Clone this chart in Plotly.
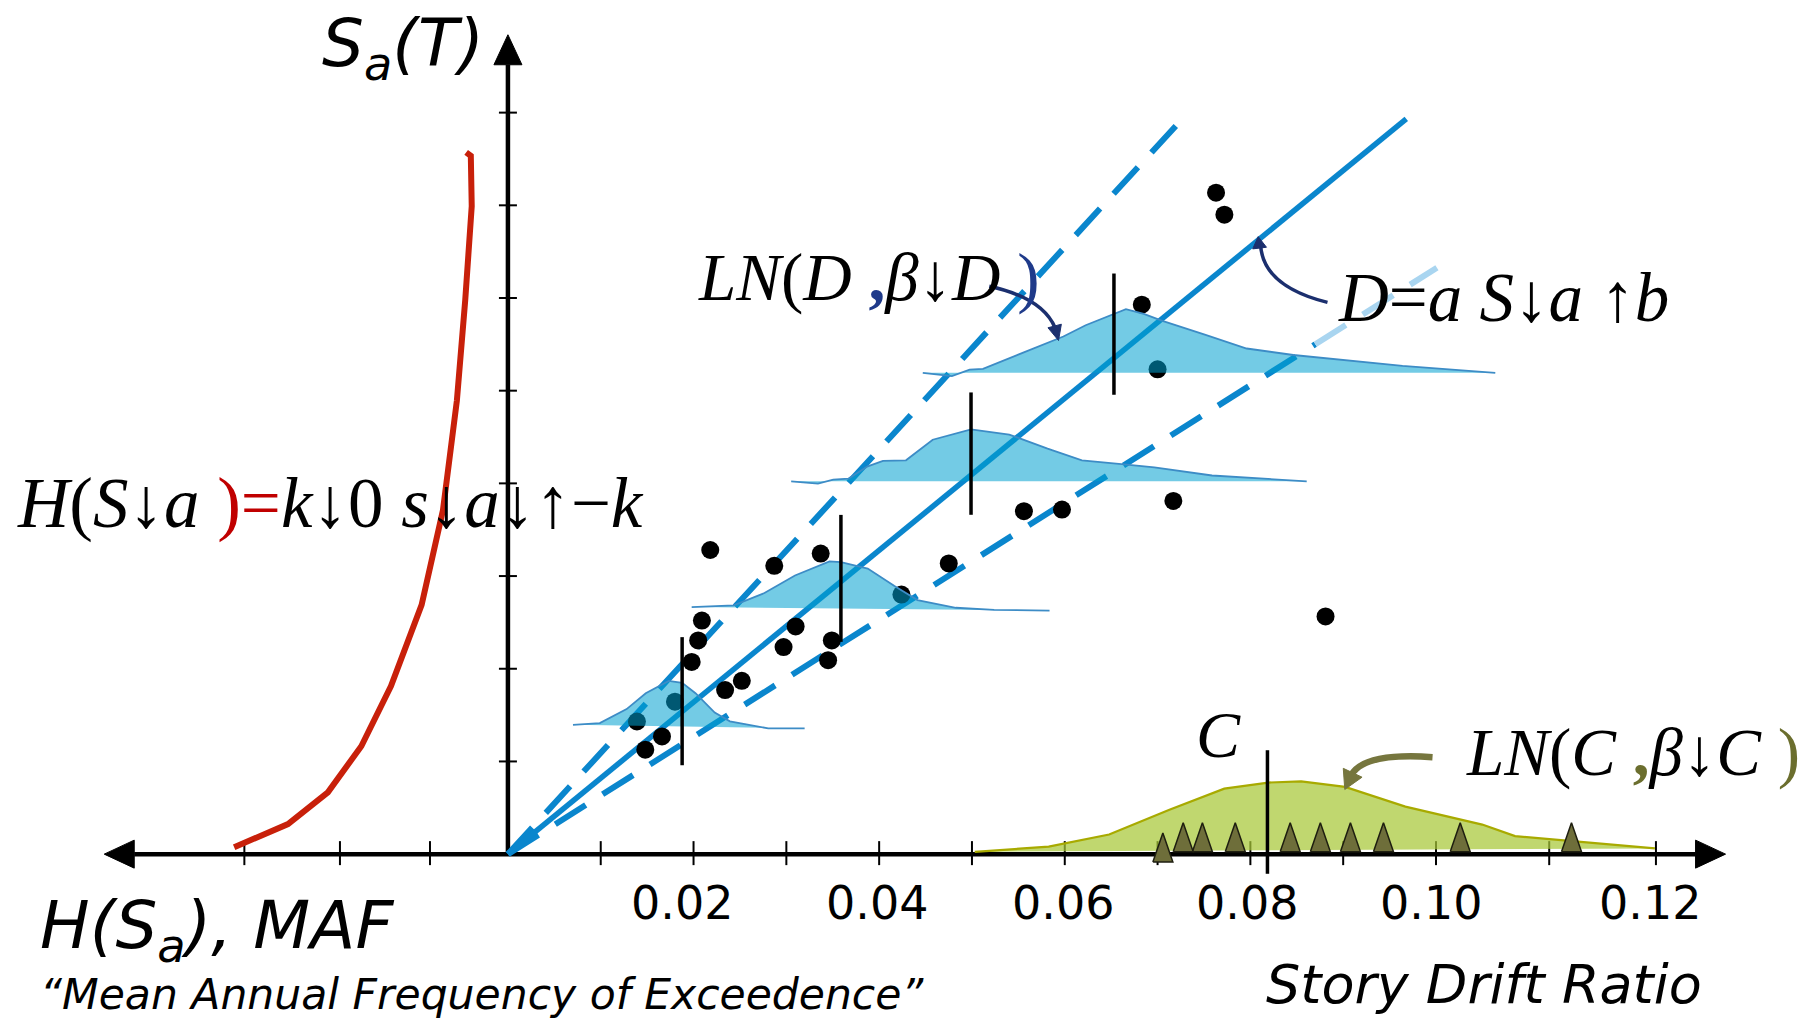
import math
import plotly.graph_objects as go

# ---------------- data ----------------
# Seismic hazard curve H(Sa) drawn on the left (negative x = MAF direction)
haz_x = [-0.0295, -0.0237, -0.0194, -0.0158, -0.0126, -0.0093, -0.0070,
         -0.0055, -0.0046, -0.0039, -0.0040, -0.0045]
haz_y = [0.075, 0.324, 0.667, 1.164, 1.813, 2.690, 3.711,
         4.894, 5.978, 6.991, 7.534, 7.572]

# Demand model D = a Sa^b (median) and +/- dispersion bounds
med_x = [0.0, 0.0968]
med_y = [0.0, 7.933]
up_x = [0.0, 0.0721]
up_y = [0.0, 7.870]
lo_x = [0.0, 0.0870, 0.1001]
lo_y = [0.0, 5.501, 6.326]

# Response history results (drift, Sa)
drift = [0.0763, 0.0772, 0.0683, 0.0700, 0.0218, 0.0287, 0.0337, 0.0475,
         0.0556, 0.0597, 0.0717, 0.0881, 0.0424, 0.0209, 0.0205, 0.0198,
         0.0310, 0.0297, 0.0349, 0.0345, 0.0252, 0.0234, 0.0180, 0.0139,
         0.0166, 0.0148]
sa = [7.136, 6.899, 5.928, 5.230, 3.281, 3.111, 3.243, 3.136,
      3.700, 3.717, 3.811, 2.565, 2.800, 2.520, 2.306, 2.073,
      2.456, 2.234, 2.306, 2.092, 1.870, 1.770, 1.645, 1.431,
      1.270, 1.127]

# Lognormal demand distributions LN(D, beta_D) at four Sa levels
d1_x = [0.00701, 0.00990, 0.01279, 0.01485, 0.01733, 0.01877, 0.02021,
        0.02228, 0.02392, 0.02805, 0.03197]
d1_y = [1.395, 1.413, 1.565, 1.736, 1.868, 1.849, 1.736, 1.527, 1.432,
        1.357, 1.357]
d2_x = [0.01980, 0.02433, 0.02764, 0.03093, 0.03465, 0.03588, 0.03877,
        0.04165, 0.04413, 0.04826, 0.05239, 0.05836]
d2_y = [2.665, 2.684, 2.817, 3.006, 3.158, 3.151, 3.081, 2.892, 2.741,
        2.658, 2.635, 2.628]
d3_x = [0.03052, 0.03341, 0.03505, 0.03670, 0.03877, 0.04041, 0.04289,
        0.04577, 0.04990, 0.05402, 0.05815, 0.06185, 0.06639, 0.06965,
        0.07587, 0.08607]
d3_y = [4.022, 3.998, 4.041, 4.052, 4.184, 4.242, 4.249, 4.471, 4.583,
        4.526, 4.375, 4.249, 4.204, 4.172, 4.085, 4.022]
d4_x = [0.04470, 0.04784, 0.04975, 0.05119, 0.05552, 0.05985, 0.06225,
        0.06659, 0.06851, 0.07052, 0.07509, 0.07960, 0.08463, 0.09639,
        0.10639]
d4_y = [5.193, 5.158, 5.228, 5.235, 5.410, 5.584, 5.706, 5.880, 5.828,
        5.753, 5.604, 5.455, 5.385, 5.268, 5.193]
d_median = [0.01877, 0.03588, 0.04990, 0.06530]
d_med_lo = [0.959, 2.290, 3.661, 4.956]
d_med_hi = [2.341, 3.660, 4.981, 6.264]

# Capacity distribution LN(C, beta_C)
c_x = [0.05030, 0.05827, 0.06478, 0.07128, 0.07719, 0.08193, 0.08547,
       0.09020, 0.09670, 0.10498, 0.10852, 0.11443, 0.12359]
c_y = [0.025, 0.081, 0.212, 0.478, 0.707, 0.772, 0.785, 0.725, 0.513,
       0.319, 0.194, 0.142, 0.062]
c_median = 0.08184
c_med_lo, c_med_hi = -0.212, 1.121
cap_samples = [0.07057, 0.07276, 0.07483, 0.07837, 0.08429, 0.08754,
               0.09078, 0.09434, 0.10261, 0.11460]
cap_base = [-0.085, 0.025, 0.025, 0.025, 0.025, 0.025, 0.025, 0.025,
            0.025, 0.025]

# Axes ticks / labels
y_ticks = [1, 2, 3, 4, 5, 6, 7, 8]
x_ticks = [0.01, 0.02, 0.03, 0.04, 0.05, 0.06, 0.07, 0.08, 0.09, 0.10,
           0.1122, 0.1237]
x_ticks_left = [-0.0284, -0.0181, -0.0084]
x_label_pos = [0.0188, 0.0398, 0.0598, 0.0796, 0.0995, 0.1231]
x_labels = ["0.02", "0.04", "0.06", "0.08", "0.10", "0.12"]
x_axis_left, x_axis_right, y_axis_top = -0.0435, 0.1312, 8.84

# ---------------- layout helpers ----------------
W, H = 1810, 1018
XR = [-0.05473, 0.14030]
YR = [-1.768, 9.215]
DX = (XR[1] - XR[0]) / W   # data per px
DY = (YR[1] - YR[0]) / H

BLUE = "#0A86CD"
BLUE_LIGHT = "#A9D5F0"
RED = "#C8200A"
NAVY = "#1B2F6E"
OLIVE = "#76763E"
DASH = "36px,20px"

fig = go.Figure()


def line(x, y, color, width, dash=None):
    fig.add_trace(go.Scatter(x=x, y=y, mode="lines", hoverinfo="skip",
                             line=dict(color=color, width=width, dash=dash),
                             showlegend=False))


def poly(x, y, fill, outline, width):
    fig.add_trace(go.Scatter(x=x, y=y, mode="lines", fill="toself",
                             fillcolor=fill, hoverinfo="skip",
                             line=dict(color=outline, width=width),
                             showlegend=False))


# axes lines
head_len, head_w = 30, 14   # px
line([x_axis_left + head_len * DX, x_axis_right - head_len * DX], [0, 0], "black", 4.5)
line([0, 0], [0, y_axis_top - head_len * DY], "black", 4.5)
poly([x_axis_right, x_axis_right - head_len * DX, x_axis_right - head_len * DX, x_axis_right],
     [0, head_w * DY, -head_w * DY, 0], "black", "black", 1)
poly([x_axis_left, x_axis_left + head_len * DX, x_axis_left + head_len * DX, x_axis_left],
     [0, head_w * DY, -head_w * DY, 0], "black", "black", 1)
poly([0, head_w * DX, -head_w * DX, 0],
     [y_axis_top, y_axis_top - head_len * DY, y_axis_top - head_len * DY, y_axis_top],
     "black", "black", 1)

# ticks
tx, ty = [], []
for v in y_ticks:
    tx += [-9 * DX, 9 * DX, None]
    ty += [v, v, None]
for v in x_ticks + x_ticks_left:
    tx += [v, v, None]
    ty += [-11 * DY, 13 * DY, None]
line(tx, ty, "black", 2)

# hazard curve
line(haz_x, haz_y, RED, 6)

# demand model lines
line(up_x, up_y, BLUE, 6, dash=DASH)
line(lo_x[:2], lo_y[:2], BLUE, 6, dash=DASH)
line(lo_x[1:], lo_y[1:], BLUE_LIGHT, 6, dash=DASH)
line(med_x, med_y, BLUE, 5.5)

# scatter of results
fig.add_trace(go.Scatter(x=drift, y=sa, mode="markers", hoverinfo="skip",
                         marker=dict(color="black", size=18), showlegend=False))

# demand distributions
for dx_, dy_ in [(d1_x, d1_y), (d2_x, d2_y), (d3_x, d3_y), (d4_x, d4_y)]:
    poly(dx_, dy_, "rgba(0,160,208,0.55)", "#3D8CC6", 1.8)
mx, my = [], []
for m, lo, hi in zip(d_median, d_med_lo, d_med_hi):
    mx += [m, m, None]
    my += [lo, hi, None]
line(mx, my, "black", 3.5)

# capacity distribution
poly(c_x, c_y, "rgba(168,200,55,0.72)", "#A8AA00", 2.2)
half_w, tri_h = 10, 29   # px
trx, tr_y = [], []
for s, b in zip(cap_samples, cap_base):
    trx += [s - half_w * DX, s, s + half_w * DX, s - half_w * DX, None]
    tr_y += [b, b + tri_h * DY, b, b, None]
fig.add_trace(go.Scatter(x=trx, y=tr_y, mode="lines", fill="toself",
                         fillcolor="#6E6E3A", hoverinfo="skip",
                         line=dict(color="#1E1E10", width=1.5), showlegend=False))
line([c_median, c_median], [c_med_lo, c_med_hi], "black", 3.5)

# ---------------- texts ----------------
def P(xr, yr):
    """reference-pixel position (on the 1568x882 view) -> paper coords"""
    return xr / 1568, 1 - yr / 882


SANS = "DejaVu Sans"
SERIF = "Liberation Serif"


def text(t, xr, yr, size, family, xanchor="left", color="black"):
    px_, py_ = P(xr, yr)
    fig.add_annotation(x=px_, y=py_, xref="paper", yref="paper", text=t,
                       showarrow=False, xanchor=xanchor, yanchor="middle",
                       font=dict(size=size, family=family, color=color))


for pos, lab in zip(x_label_pos, x_labels):
    fig.add_annotation(x=pos, y=-0.53, xref="x", yref="y", text=lab,
                       showarrow=False, xanchor="center", yanchor="middle",
                       font=dict(size=46, family=SANS, color="black"))

text("<i>S<sub>a</sub>(T)</i>", 421, 42, 66, SANS, "right")
text("<i>H(S<sub>a</sub>), MAF</i>", 33, 806, 66, SANS)
text("<i>“Mean Annual Frequency of Exceedence”</i>", 33, 862, 42.5, SANS)
text("<i>Story Drift Ratio</i>", 1476, 853, 54, SANS, "right")

text("<i>H</i>(<i>S</i>↓<i>a</i> <span style='color:#C00000'>)=</span><i>k</i>↓0 "
     "<i>s</i>↓<i>a</i>↓↑−<i>k</i>", 13, 436, 71, SERIF)
text("<i>LN</i>(<i>D</i> <span style='color:#1F3A8A'><b>,</b></span><i>β</i>↓<i>D</i> "
     "<span style='color:#1F3A8A'>)</span>", 603, 240, 67, SERIF)
text("<i>D</i>=<i>a S</i>↓<i>a</i> ↑<i>b</i>", 1157, 258, 69, SERIF)
text("<i>C</i>", 1056, 636, 66, SERIF, "center")
text("<i>LN</i>(<i>C</i> <span style='color:#6B6E2E'><b>,</b></span><i>β</i>↓<i>C</i> "
     "<span style='color:#6B6E2E'>)</span>", 1268, 652, 67, SERIF)


# ---------------- callout curves ----------------
def ppath(cmds):
    out = []
    for c in cmds:
        if isinstance(c, str):
            out.append(c)
        else:
            x_, y_ = P(*c)
            out.append(f"{x_:.5f},{y_:.5f}")
    return " ".join(out)


def curve(p0, c, p1, color, width):
    fig.add_shape(type="path", xref="paper", yref="paper",
                  path=ppath(["M", p0, "Q", c, p1]),
                  line=dict(color=color, width=width))


def head(tip, frm, length, hw, color):
    vx, vy = tip[0] - frm[0], tip[1] - frm[1]
    n = math.hypot(vx, vy)
    ux, uy = vx / n, vy / n
    bx, by = tip[0] - ux * length, tip[1] - uy * length
    a = (bx - uy * hw, by + ux * hw)
    b = (bx + uy * hw, by - ux * hw)
    fig.add_shape(type="path", xref="paper", yref="paper",
                  path=ppath(["M", tip, "L", a, "L", b, "Z"]),
                  fillcolor=color, line=dict(color=color, width=1))


curve((857, 248), (903, 258), (914, 284), NAVY, 3.5)
head((917, 295), (913, 280), 13, 6, NAVY)

curve((1150, 262), (1094, 248), (1092, 212), NAVY, 3.5)
head((1090, 205), (1092, 222), 10, 6, NAVY)

curve((1241, 656), (1182, 652), (1171, 671), OLIVE, 6.5)
head((1165, 684), (1173, 667), 16, 9, OLIVE)

fig.update_layout(
    width=W, height=H, margin=dict(l=0, r=0, t=0, b=0),
    paper_bgcolor="white", plot_bgcolor="white", showlegend=False,
    xaxis=dict(range=XR, visible=False, fixedrange=True),
    yaxis=dict(range=YR, visible=False, fixedrange=True),
)
fig.write_html("out.html")
